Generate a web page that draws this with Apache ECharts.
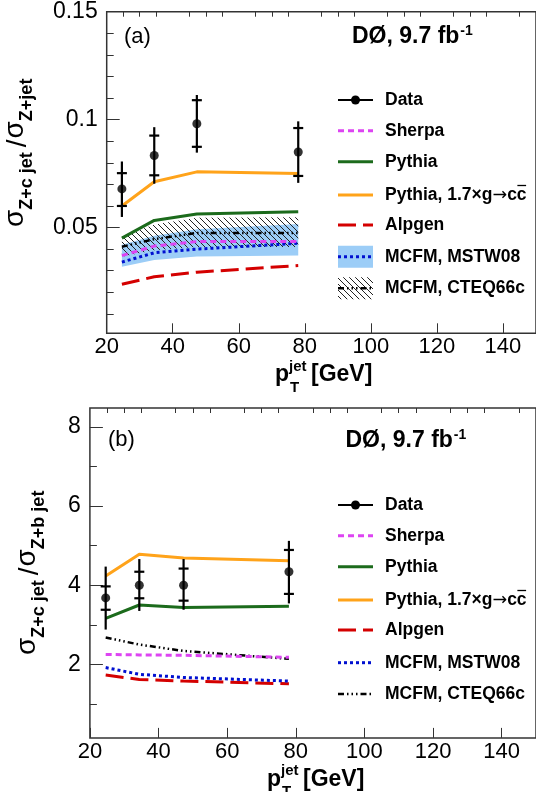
<!DOCTYPE html>
<html><head><meta charset="utf-8">
<script src="https://cdn.jsdelivr.net/npm/echarts@6/dist/echarts.min.js"></script>
<style>html,body{margin:0;padding:0;background:#fff}#c{width:536px;height:792px}</style>
</head><body><div id="c"></div>
<script>
// ---------- data ----------
const ptBins = [24.6, 34.4, 47.3, 78.0];

// panel (a): sigma(Z+c jet)/sigma(Z+jet)
const aData    = [0.0679, 0.0834, 0.0981, 0.0850];
const aTotHi   = [0.0806, 0.0965, 0.1114, 0.0992];
const aTotLo   = [0.0549, 0.0703, 0.0847, 0.0707];
const aStatHi  = [0.0752, 0.0926, 0.1090, 0.0961];
const aStatLo  = [0.0600, 0.0742, 0.0874, 0.0739];
const aSherpa  = [0.0370, 0.0414, 0.0435, 0.0435];
const aPythia  = [0.0451, 0.0533, 0.0563, 0.0573];
const aPythia17= [0.0600, 0.0712, 0.0758, 0.0750];
const aAlpgen  = [0.0237, 0.0272, 0.0293, 0.0324];
const aMstw    = [0.0340, 0.0383, 0.0400, 0.0427];
const aMstwLo  = [0.0318, 0.0350, 0.0366, 0.0371];
const aMstwHi  = [0.0420, 0.0462, 0.0492, 0.0516];
const aCteq    = [0.0411, 0.0446, 0.0475, 0.0475];
const aCteqLo  = [0.0365, 0.0395, 0.0410, 0.0410];
const aCteqHi  = [0.0459, 0.0514, 0.0545, 0.0548];

// panel (b): sigma(Z+c jet)/sigma(Z+b jet)
const bData    = [3.68, 4.00, 4.00, 4.34];
const bTotHi   = [4.47, 4.66, 4.66, 5.12];
const bTotLo   = [2.88, 3.35, 3.38, 3.54];
const bStatHi  = [3.97, 4.34, 4.42, 4.89];
const bStatLo  = [3.38, 3.67, 3.61, 3.78];
const bSherpa  = [2.25, 2.24, 2.23, 2.18];
const bPythia  = [3.16, 3.50, 3.44, 3.47];
const bPythia17= [4.23, 4.78, 4.69, 4.62];
const bAlpgen  = [1.73, 1.62, 1.58, 1.51];
const bMstw    = [1.92, 1.75, 1.67, 1.58];
const bCteq    = [2.68, 2.50, 2.34, 2.14];

// ticks
const xMajor = [20, 40, 60, 80, 100, 120, 140];
const xMinor = [25, 30, 35, 45, 50, 55, 65, 70, 75, 85, 90, 95, 105, 110, 115, 125, 130, 135, 145];
const aYMajor = [0.05, 0.1, 0.15];
const aYMinor = [0.01, 0.02, 0.03, 0.04, 0.06, 0.07, 0.08, 0.09, 0.11, 0.12, 0.13, 0.14];
const bYMajor = [2, 4, 6, 8];
const bYMinor = [1, 3, 5, 7];

const legendNames = ['Data', 'Sherpa', 'Pythia', 'Pythia, 1.7\u00d7g', 'Alpgen', 'MCFM, MSTW08', 'MCFM, CTEQ66c'];

// ---------- styles ----------
const FF = '"Liberation Sans", Arial, Helvetica, sans-serif';
const C = {
  sherpa: '#dd44f2', pythia: '#1c6b1c', pythia17: '#ffa31a', alpgen: '#d40000',
  mstw: '#0010d0', band: '#9ccdf7', cteq: '#000000'
};
const LS = {
  sherpa: {color: C.sherpa, width: 3, type: [6, 4]},
  pythia: {color: C.pythia, width: 3, type: 'solid'},
  pythia17: {color: C.pythia17, width: 3, type: 'solid'},
  alpgen: {color: C.alpgen, width: 3, type: [18, 7]},
  mstw: {color: C.mstw, width: 3, type: [3, 3]},
  cteq: {color: C.cteq, width: 2.5, type: [6, 3, 1.5, 3, 1.5, 3, 1.5, 3]}
};

// hatch pattern
const pc = document.createElement('canvas');
pc.width = 6; pc.height = 6;
(function () {
  const g = pc.getContext('2d');
  g.strokeStyle = '#222'; g.lineWidth = 1;
  g.beginPath();
  g.moveTo(-1, -1); g.lineTo(7, 7);
  g.moveTo(-1, 5); g.lineTo(1, 7);
  g.moveTo(5, -1); g.lineTo(7, 1);
  g.stroke();
})();
const hatchFill = {image: pc, repeat: 'repeat'};

const mctx = document.createElement('canvas').getContext('2d');
function tw(str, font) { mctx.font = font; return mctx.measureText(str).width; }

// ---------- helpers ----------
function pairs(ys) { return ptBins.map((x, i) => [x, ys[i]]); }
function lineSeries(ys, ls, gi) {
  return {type: 'line', xAxisIndex: gi * 2, yAxisIndex: gi * 2, data: pairs(ys), symbol: 'none',
    silent: true, animation: false, lineStyle: ls};
}
function bandSeries(lo, hi, fill, gi, z) {
  return {type: 'custom', xAxisIndex: gi * 2, yAxisIndex: gi * 2, silent: true, animation: false, z: z,
    clip: true,
    data: ptBins.map((x, i) => [x, lo[i], hi[i]]),
    encode: {x: 0, y: [1, 2]},
    renderItem: function (params, api) {
      if (params.dataIndex !== 0) return null;
      const pts = [];
      for (let i = 0; i < ptBins.length; i++) pts.push(api.coord([ptBins[i], hi[i]]));
      for (let i = ptBins.length - 1; i >= 0; i--) pts.push(api.coord([ptBins[i], lo[i]]));
      return {type: 'polygon', shape: {points: pts}, style: {fill: fill, stroke: null}};
    }};
}
function errSeries(tHi, tLo, sHi, sLo, gi) {
  return {type: 'custom', xAxisIndex: gi * 2, yAxisIndex: gi * 2, silent: true, animation: false, z: 5,
    data: ptBins.map((x, i) => [x, tHi[i], tLo[i], sHi[i], sLo[i]]),
    encode: {x: 0, y: [1, 2, 3, 4]},
    renderItem: function (params, api) {
      const x = api.value(0);
      const t = api.coord([x, api.value(1)]), b = api.coord([x, api.value(2)]);
      const sh = api.coord([x, api.value(3)]), sl = api.coord([x, api.value(4)]);
      const hw = 5, st = {stroke: '#000', lineWidth: 2.2};
      return {type: 'group', children: [
        {type: 'line', shape: {x1: t[0], y1: t[1], x2: b[0], y2: b[1]}, style: st},
        {type: 'line', shape: {x1: sh[0] - hw, y1: sh[1], x2: sh[0] + hw, y2: sh[1]}, style: st},
        {type: 'line', shape: {x1: sl[0] - hw, y1: sl[1], x2: sl[0] + hw, y2: sl[1]}, style: st}
      ]};
    }};
}
function dataSeries(ys, gi) {
  return {type: 'scatter', xAxisIndex: gi * 2, yAxisIndex: gi * 2, data: pairs(ys), symbol: 'circle',
    symbolSize: 9, itemStyle: {color: '#000'}, silent: true, animation: false, z: 6};
}

const tickCol = '#333';
function xAxes(gi) {
  return [
    {gridIndex: gi, type: 'value', min: 20, max: 150, axisLine: {show: false}, splitLine: {show: false},
      axisTick: {inside: true, length: 10, customValues: xMajor, lineStyle: {color: tickCol, width: 1}},
      axisLabel: {customValues: xMajor, fontSize: 22, fontFamily: FF, color: '#000', margin: 3}},
    {gridIndex: gi, type: 'value', min: 20, max: 150, axisLine: {show: false}, splitLine: {show: false},
      axisTick: {inside: true, length: 5, customValues: xMinor, lineStyle: {color: tickCol, width: 1}},
      axisLabel: {show: false}}
  ];
}
function yAxes(gi, min, max, maj, minr) {
  return [
    {gridIndex: gi, type: 'value', min: min, max: max, position: 'left', axisLine: {show: false}, splitLine: {show: false},
      axisTick: {inside: true, length: 13, customValues: maj, lineStyle: {color: tickCol, width: 1}},
      axisLabel: {customValues: maj, fontSize: 23, fontFamily: FF, color: '#000', margin: 9,
        formatter: v => String(v)}},
    {gridIndex: gi, type: 'value', min: min, max: max, position: 'left', axisLine: {show: false}, splitLine: {show: false},
      axisTick: {inside: true, length: 7, customValues: minr, lineStyle: {color: tickCol, width: 1}},
      axisLabel: {show: false}}
  ];
}

// ---------- texts ----------
const graphics = [];
function txt(x, base, str, size, weight, family) {
  graphics.push({type: 'text', x: x, y: base - 0.35 * size, silent: true,
    style: {text: str, font: (weight || 'normal') + ' ' + size + 'px ' + (family || FF), fill: '#000', align: 'left', verticalAlign: 'middle'}});
}
function vTitle(bx, by, subA, subB) {
  const ch = [];
  let lx = 0;
  function piece(str, size, weight, dy, gap) {
    lx += gap || 0;
    ch.push({type: 'text', x: lx, y: dy - 0.35 * size, silent: true,
      style: {text: str, font: weight + ' ' + size + 'px ' + FF, fill: '#000', align: 'left', verticalAlign: 'middle'}});
    lx += tw(str, weight + ' ' + size + 'px ' + FF);
  }
  piece('\u03c3', 28, 'normal', 0, 0);
  piece(subA, 18, 'bold', 8, 0);
  piece('/', 28, 'normal', 3, 5);
  piece('\u03c3', 28, 'normal', 0, 1);
  piece(subB, 18, 'bold', 8, 0);
  graphics.push({type: 'group', x: bx, y: by, rotation: Math.PI / 2, silent: true, children: ch});
}
function xTitle(px, base) {
  txt(px, base, 'p', 23, 'bold');
  txt(px + 14, base - 11, 'jet', 15, 'bold');
  txt(px + 15, base + 10, 'T', 15, 'bold');
  txt(px + 36, base, '[GeV]', 23, 'bold');
}
function lumi(x, base) {
  const f = 'bold 23px ' + FF;
  txt(x, base, 'D\u00d8, 9.7 fb', 23, 'bold');
  txt(x + tw('D\u00d8, 9.7 fb', f) + 1, base - 9, '-1', 14, 'bold');
}
function legend(rows, withBands) {
  const x1 = 338, x2 = 373, tx = 385;
  const LF = 17.5;
  const lf = 'bold ' + LF + 'px ' + FF;
  const seg = (y, ls) => graphics.push({type: 'line', silent: true, shape: {x1: x1, y1: y, x2: x2, y2: y},
    style: {stroke: ls.color, lineWidth: ls.width, lineDash: Array.isArray(ls.type) ? ls.type : null}});
  // Data
  graphics.push({type: 'line', silent: true, shape: {x1: x1, y1: rows[0], x2: x2, y2: rows[0]}, style: {stroke: '#000', lineWidth: 2}});
  graphics.push({type: 'circle', silent: true, shape: {cx: (x1 + x2) / 2, cy: rows[0], r: 4.5}, style: {fill: '#000'}});
  seg(rows[1], LS.sherpa);
  seg(rows[2], LS.pythia);
  seg(rows[3], LS.pythia17);
  seg(rows[4], LS.alpgen);
  if (withBands) {
    graphics.push({type: 'rect', silent: true, shape: {x: x1, y: rows[5] - 11, width: x2 - x1, height: 22}, style: {fill: C.band}});
    graphics.push({type: 'rect', silent: true, shape: {x: x1, y: rows[6] - 11, width: x2 - x1, height: 22}, style: {fill: hatchFill}});
  }
  seg(rows[5], LS.mstw);
  seg(rows[6], LS.cteq);
  rows.forEach((y, i) => {
    graphics.push({type: 'text', x: tx, y: y, silent: true,
      style: {text: legendNames[i], font: lf, fill: '#000', align: 'left', verticalAlign: 'middle'}});
  });
  // arrow and c c-bar
  const w0 = tw(legendNames[3], lf);
  const af = 'normal ' + LF + 'px "DejaVu Sans", sans-serif';
  const wa = tw('\u2192', af);
  graphics.push({type: 'text', x: tx + w0, y: rows[3], silent: true,
    style: {text: '\u2192', font: af, fill: '#000', align: 'left', verticalAlign: 'middle'}});
  const xc = tx + w0 + wa;
  const wc = tw('c', lf);
  graphics.push({type: 'text', x: xc, y: rows[3], silent: true,
    style: {text: 'cc', font: lf, fill: '#000', align: 'left', verticalAlign: 'middle'}});
  graphics.push({type: 'line', silent: true, shape: {x1: xc + wc + 0.5, y1: rows[3] - 9.5, x2: xc + 2 * wc - 0.5, y2: rows[3] - 9.5},
    style: {stroke: '#000', lineWidth: 1.3}});
}

// panel a texts
vTitle(25, 227, 'Z+c jet', 'Z+jet');
xTitle(275, 383);
txt(124, 45, '(a)', 22, 'normal');
lumi(352, 45);
legend([100, 130.7, 161.7, 195, 225, 256.7, 288.3], true);
// panel b texts
vTitle(37, 655, 'Z+c jet', 'Z+b jet');
xTitle(267, 787.5);
txt(108, 448, '(b)', 22, 'normal');
lumi(345.5, 449);
legend([505, 535.7, 566.7, 600, 630, 662.7, 694], false);

// ---------- chart ----------
const chart = echarts.init(document.getElementById('c'), null, {renderer: 'canvas', width: 536, height: 792});
chart.setOption({
  animation: false,
  backgroundColor: '#fff',
  grid: [
    {left: 106.7, top: 11.7, width: 432.5, height: 321.6, show: true, borderColor: '#333', borderWidth: 1.5, containLabel: false},
    {left: 89.9, top: 408, width: 450.1, height: 329.9, show: true, borderColor: '#333', borderWidth: 1.5, containLabel: false}
  ],
  xAxis: xAxes(0).concat(xAxes(1)),
  yAxis: yAxes(0, 0.001, 0.15, aYMajor, aYMinor).concat(yAxes(1, 0.144, 8.475, bYMajor, bYMinor)),
  series: [
    bandSeries(aMstwLo, aMstwHi, C.band, 0, 1),
    bandSeries(aCteqLo, aCteqHi, hatchFill, 0, 1),
    lineSeries(aCteq, LS.cteq, 0),
    lineSeries(aAlpgen, LS.alpgen, 0),
    lineSeries(aPythia, LS.pythia, 0),
    lineSeries(aPythia17, LS.pythia17, 0),
    lineSeries(aMstw, LS.mstw, 0),
    lineSeries(aSherpa, LS.sherpa, 0),
    errSeries(aTotHi, aTotLo, aStatHi, aStatLo, 0),
    dataSeries(aData, 0),

    lineSeries(bCteq, LS.cteq, 1),
    lineSeries(bAlpgen, LS.alpgen, 1),
    lineSeries(bMstw, LS.mstw, 1),
    lineSeries(bSherpa, LS.sherpa, 1),
    lineSeries(bPythia, LS.pythia, 1),
    lineSeries(bPythia17, LS.pythia17, 1),
    errSeries(bTotHi, bTotLo, bStatHi, bStatLo, 1),
    dataSeries(bData, 1)
  ],
  graphic: graphics
});
</script>
</body></html>
